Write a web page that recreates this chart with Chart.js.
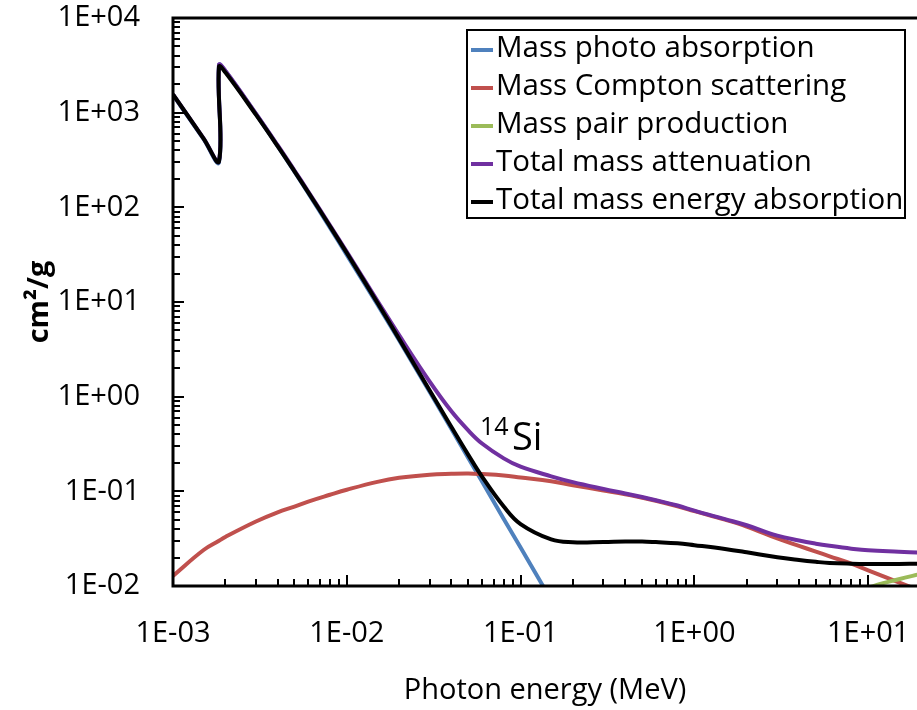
<!DOCTYPE html>
<html>
<head>
<meta charset="utf-8">
<script src="https://cdn.jsdelivr.net/npm/chart.js@4.4.1/dist/chart.umd.min.js"></script>
<style>
  html, body { margin: 0; padding: 0; background: #fff; }
  #wrap { width: 917px; height: 710px; }
</style>
</head>
<body>
<div id="wrap"><canvas id="attenChart" width="917" height="710"></canvas></div>
<script>
// photon energy (MeV), K edge listed twice
const energyMeV = [0.001, 0.0015, 0.001839, 0.001839, 0.002, 0.003, 0.004, 0.005, 0.006, 0.008,
    0.01, 0.015, 0.02, 0.03, 0.04, 0.05, 0.06, 0.08, 0.1, 0.15,
    0.2, 0.3, 0.4, 0.5, 0.6, 0.8, 1, 1.5, 2, 3,
    4, 5, 6, 8, 10, 15, 20];

const photoAbs = [1540, 525, 300, 3180, 2760, 968, 444, 238, 141, 61,
    31.4, 9.4, 3.94, 1.12, 0.455, 0.225, 0.127, 0.051, 0.0255, 0.0071,
    0.0029, null, null, null, null, null, null, null, null, null,
    null, null, null, null, null, null, null];

const comptonScat = [0.0128, 0.024, 0.030, 0.030, 0.033, 0.048, 0.060, 0.069, 0.078, 0.092,
    0.104, 0.126, 0.139, 0.150, 0.153, 0.154, 0.152, 0.147, 0.140, 0.128,
    0.116, 0.102, 0.093, 0.0855, 0.0795, 0.0695, 0.0618, 0.0502, 0.0425, 0.0318,
    0.0265, 0.0231, 0.0206, 0.0172, 0.0146, 0.0109, 0.0089];

const pairProd = [null, null, null, null, null, null, null, null, null, null,
    null, null, null, null, null, null, null, null, null, null,
    null, null, null, null, null, null, null, null, 0.0011, 0.0026,
    0.0038, 0.0050, 0.0060, 0.0078, 0.0096, 0.0118, 0.0134];

const totalAtten = [1560, 535, 309, 3192, 2777, 978, 453, 245, 147, 64.7,
    33.9, 10.3, 4.46, 1.44, 0.70, 0.44, 0.32, 0.223, 0.182, 0.144,
    0.125, 0.106, 0.095, 0.087, 0.0805, 0.0708, 0.0625, 0.0508, 0.0438, 0.0340,
    0.0302, 0.0280, 0.0266, 0.0248, 0.0238, 0.0230, 0.0225];

const energyAbs = [1555, 533, 307, 3060, 2669, 952, 443, 240, 144, 63.1,
    32.9, 9.8, 4.08, 1.16, 0.478, 0.243, 0.143, 0.069, 0.045, 0.031,
    0.029, 0.0292, 0.0295, 0.0295, 0.0291, 0.0283, 0.0270, 0.0246, 0.0227, 0.0201,
    0.0188, 0.0180, 0.0175, 0.0172, 0.0171, 0.0171, 0.0172];

const seriesNames = ["Mass photo absorption", "Mass Compton scattering", "Mass pair production",
    "Total mass attenuation", "Total mass energy absorption"];
const seriesColors = ["#4F81BD", "#C0504D", "#9BBB59", "#7030A0", "#000000"];

const xTickValues = [1e-3, 1e-2, 1e-1, 1e0, 1e1];
const xTickLabels = ["1E-03", "1E-02", "1E-01", "1E+00", "1E+01"];
const yTickValues = [1e-2, 1e-1, 1e0, 1e1, 1e2, 1e3, 1e4];
const yTickLabels = ["1E-02", "1E-01", "1E+00", "1E+01", "1E+02", "1E+03", "1E+04"];

const X_MIN = 1e-3, X_MAX = 19.1;
const Y_MIN = 1e-2, Y_MAX = 1e4;

Chart.defaults.font.family = "'Open Sans', sans-serif";
Chart.defaults.color = "#000";

function toPoints(values) {
    return energyMeV.map((e, i) => ({ x: e, y: values[i] }));
}

function logTicks(min, max, majors) {
    const ticks = [];
    const e0 = Math.floor(Math.log10(min));
    const e1 = Math.ceil(Math.log10(max));
    for (let e = e0; e <= e1; e++) {
        for (let k = 1; k <= 9; k++) {
            const v = parseFloat((k * Math.pow(10, e)).toPrecision(3));
            if (v < min * 0.999 || v > max * 1.001) continue;
            ticks.push({ value: v, major: majors.some(m => Math.abs(m - v) / m < 1e-6) });
        }
    }
    return ticks;
}

function labelFor(value, values, labels) {
    const i = values.findIndex(m => Math.abs(m - value) / m < 1e-6);
    return i >= 0 ? labels[i] : "";
}

const decorPlugin = {
    id: "decor",
    afterDatasetsDraw(chart) {
        const { ctx, chartArea: a, scales: { x, y } } = chart;
        ctx.save();
        ctx.strokeStyle = "#000";
        ctx.lineWidth = 2;
        x.ticks.forEach(t => {
            const px = Math.round(x.getPixelForValue(t.value));
            const len = t.major ? 11 : 7;
            ctx.beginPath();
            ctx.moveTo(px, a.bottom);
            ctx.lineTo(px, a.bottom - len);
            ctx.stroke();
        });
        y.ticks.forEach(t => {
            const py = Math.round(y.getPixelForValue(t.value));
            const len = t.major ? 11 : 7;
            ctx.beginPath();
            ctx.moveTo(a.left, py);
            ctx.lineTo(a.left + len, py);
            ctx.stroke();
        });
        // frame: top, left, bottom
        ctx.lineWidth = 3;
        ctx.beginPath();
        ctx.moveTo(a.right, a.top);
        ctx.lineTo(a.left, a.top);
        ctx.lineTo(a.left, a.bottom);
        ctx.lineTo(a.right, a.bottom);
        ctx.stroke();

        // element label
        const lx = x.getPixelForValue(0.06);
        const ly = y.getPixelForValue(0.27);
        ctx.fillStyle = "#000";
        ctx.textBaseline = "alphabetic";
        ctx.textAlign = "left";
        ctx.font = "25px 'Open Sans', sans-serif";
        ctx.fillText("14", lx - 2, ly - 15);
        ctx.font = "38px 'Open Sans', sans-serif";
        ctx.fillText("Si", lx + 30, ly);

        // legend box
        ctx.fillStyle = "#fff";
        ctx.fillRect(467, 30, 438, 188);
        ctx.lineWidth = 2;
        ctx.strokeRect(467, 30, 438, 188);
        ctx.font = "29.5px 'Open Sans', sans-serif";
        ctx.textBaseline = "middle";
        chart.data.datasets.forEach((ds, i) => {
            const cy = 49 + i * 38;
            ctx.strokeStyle = ds.borderColor;
            ctx.lineWidth = 4;
            ctx.beginPath();
            ctx.moveTo(471, cy + 1);
            ctx.lineTo(493, cy + 1);
            ctx.stroke();
            ctx.fillStyle = "#000";
            ctx.fillText(ds.label, 496, cy);
        });
        ctx.restore();
    }
};

const drawOrder = [4, 3, 2, 1, 0];
const seriesData = [photoAbs, comptonScat, pairProd, totalAtten, energyAbs];

new Chart(document.getElementById("attenChart"), {
    type: "line",
    data: {
        datasets: seriesData.map((vals, i) => ({
            label: seriesNames[i],
            data: toPoints(vals),
            borderColor: seriesColors[i],
            backgroundColor: seriesColors[i],
            borderWidth: 4,
            pointRadius: 0,
            tension: 0.4,
            fill: false,
            spanGaps: false,
            clip: 0,
            order: drawOrder[i]
        }))
    },
    options: {
        responsive: false,
        animation: false,
        devicePixelRatio: 1,
        layout: { padding: { top: 18, left: 0, right: 0, bottom: 0 } },
        plugins: {
            legend: { display: false },
            tooltip: { enabled: false }
        },
        scales: {
            x: {
                type: "logarithmic",
                min: X_MIN,
                max: X_MAX,
                border: { display: false },
                grid: { display: false, drawTicks: false },
                afterBuildTicks: s => { s.ticks = logTicks(X_MIN, X_MAX, xTickValues); },
                afterFit: s => {
                    s.height = 124;
                    s.paddingLeft = 0; s.paddingRight = 0;
                },
                ticks: {
                    autoSkip: false,
                    maxRotation: 0,
                    padding: 30,
                    font: { size: 29 },
                    callback: v => labelFor(v, xTickValues, xTickLabels)
                },
                title: {
                    display: true,
                    text: "Photon energy (MeV)",
                    font: { size: 29 },
                    padding: { top: 0, bottom: 2 }
                }
            },
            y: {
                type: "logarithmic",
                min: Y_MIN,
                max: Y_MAX,
                border: { display: false },
                grid: { display: false, drawTicks: false },
                afterBuildTicks: s => { s.ticks = logTicks(Y_MIN, Y_MAX, yTickValues); },
                afterFit: s => {
                    s.width = 173;
                    s.paddingTop = 0; s.paddingBottom = 0;
                },
                ticks: {
                    autoSkip: false,
                    padding: 33,
                    font: { size: 29 },
                    callback: v => labelFor(v, yTickValues, yTickLabels)
                },
                title: {
                    display: true,
                    text: "cm²/g",
                    font: { size: 29, weight: "bold" },
                    padding: { top: 22, bottom: 0 }
                }
            }
        }
    },
    plugins: [decorPlugin]
});
</script>
</body>
</html>
